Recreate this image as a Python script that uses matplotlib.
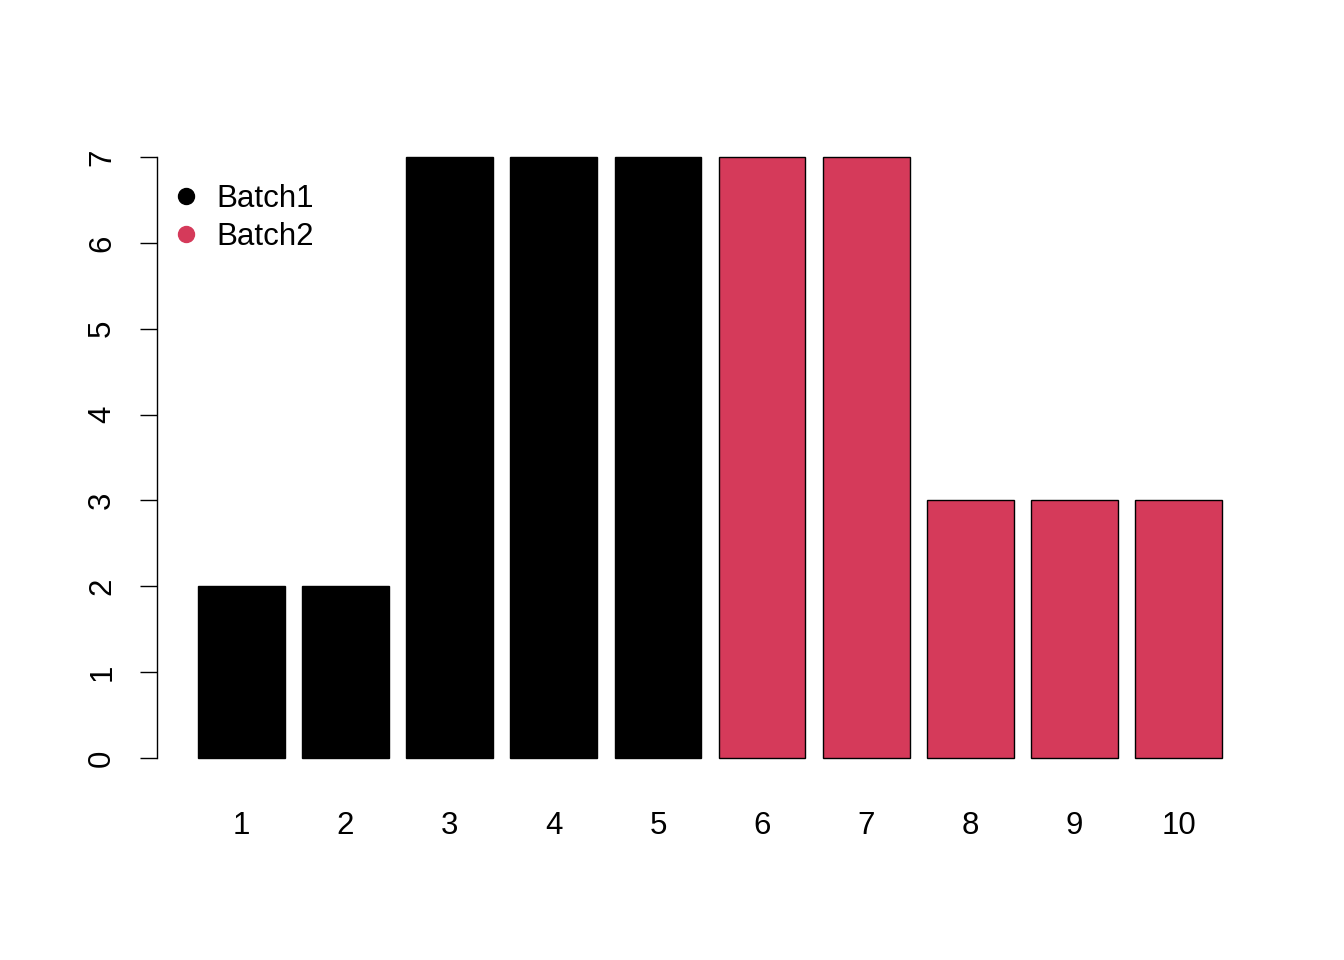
import matplotlib
matplotlib.use("Agg")
import matplotlib.pyplot as plt

plt.rcParams['font.family'] = ['Liberation Sans', 'DejaVu Sans']

categories = ['1', '2', '3', '4', '5', '6', '7', '8', '9', '10']
values = [2, 2, 7, 7, 7, 7, 7, 3, 3, 3]
batch = ['Batch1'] * 5 + ['Batch2'] * 5
batch_names = ['Batch1', 'Batch2']
batch_colors = {'Batch1': '#000000', 'Batch2': '#D53A5A'}
y_ticks = [0, 1, 2, 3, 4, 5, 6, 7]

W, H = 1344, 960
fig = plt.figure(figsize=(W / 100, H / 100), dpi=100)
ax = fig.add_axes([157 / W, 178 / H, 1106 / W, 649 / H])

xs = [0.7 + 1.2 * i for i in range(len(categories))]
ax.bar(xs, values, width=1.0, color=[batch_colors[b] for b in batch],
       edgecolor='black', linewidth=1.0)

ax.set_xlim(0.2 - 0.472, 12.0 + 0.472)
ax.set_ylim(-0.28, 7.28)

for s in ['top', 'right', 'bottom']:
    ax.spines[s].set_visible(False)
ax.spines['left'].set_bounds(0, 7)
ax.spines['left'].set_linewidth(1.0)

FS = 22.5
ax.set_yticks(y_ticks)
ax.set_yticklabels([str(t) for t in y_ticks], rotation=90, va='center', fontsize=FS)
ax.tick_params(axis='y', length=12.2, width=1.0, pad=16.5)

ax.set_xticks(xs)
ax.set_xticklabels(categories, fontsize=FS)
ax.tick_params(axis='x', length=0, pad=21)

# legend (R style: points + labels, no frame)
leg_y = [196, 234]
for name, yp in zip(batch_names, leg_y):
    fig.lines.append(plt.Line2D([186 / W], [1 - yp / H], marker='o', linestyle='none',
                                markersize=11.5, markerfacecolor=batch_colors[name],
                                markeredgecolor=batch_colors[name],
                                transform=fig.transFigure, figure=fig))
    fig.text(216 / W, 1 - (yp + 3) / H, name, fontsize=FS, va='center', ha='left')

fig.savefig('out.png', dpi=100)
